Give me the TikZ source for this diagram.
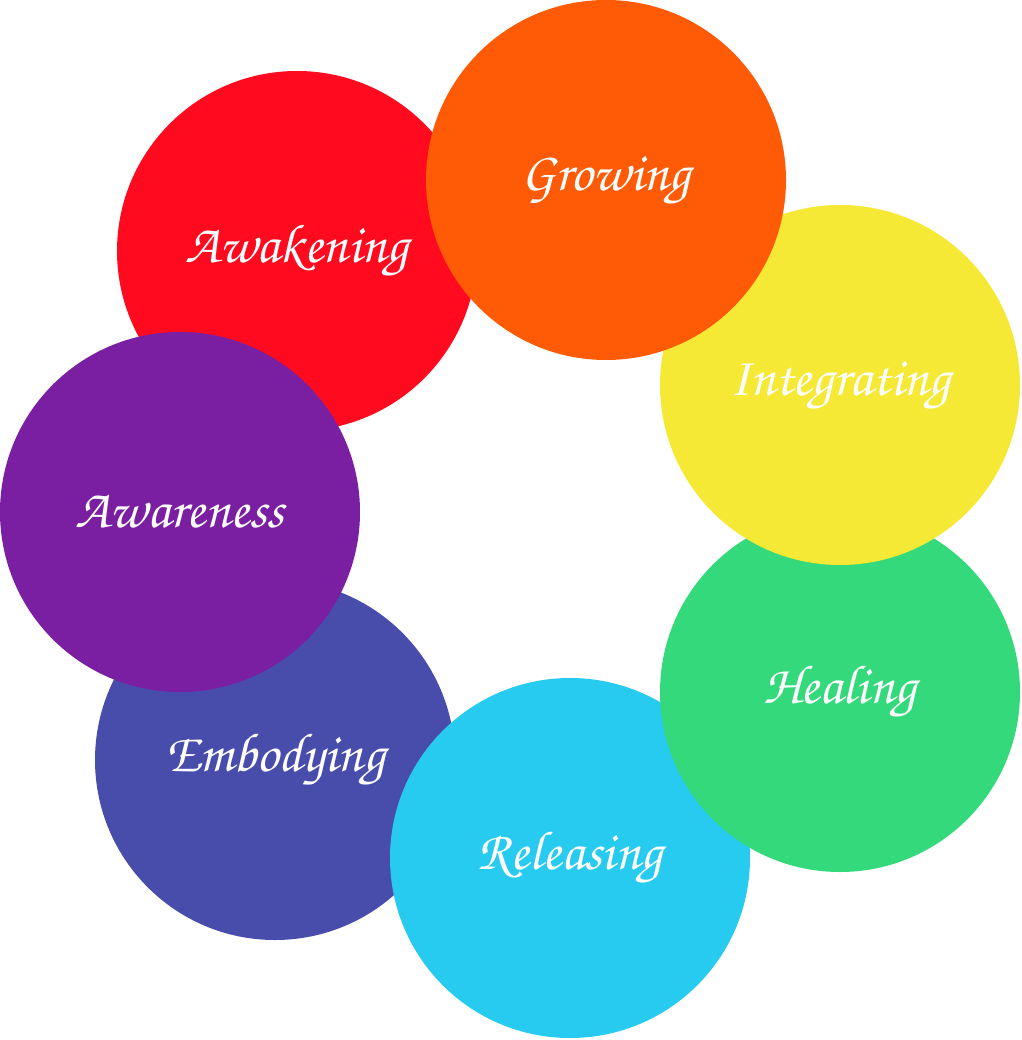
\documentclass[tikz,border=0pt]{standalone}
\usepackage{fontspec}
\setmainfont{TeX Gyre Chorus}
\definecolor{cRed}{HTML}{FF0A1F}
\definecolor{cOrange}{HTML}{FF5A05}
\definecolor{cYellow}{HTML}{F5E936}
\definecolor{cGreen}{HTML}{33D97A}
\definecolor{cCyan}{HTML}{26CBEF}
\definecolor{cIndigo}{HTML}{484CAB}
\definecolor{cPurple}{HTML}{7A1FA2}
\tikzset{
  stage/.style={circle, minimum size=360pt, inner sep=0pt, fill=#1,
    text=white, font=\fontsize{55}{55}\selectfont}
}
\begin{document}
\begin{tikzpicture}[x=1pt,y=-1pt]
  \useasboundingbox (0,0) rectangle (1021,1040);
  % back to front
  \node[stage=cIndigo] (embody) at (275,760) {Embodying};
  \node[stage=cCyan] (release) at (570,858) {Releasing};
  \node[stage=cGreen] (heal) at (840,692) {Healing};
  \node[stage=cYellow] (integr) at (840,385) {Integrating};
  \node[stage=cRed] (awaken) at (297,251) {Awakening};
  \node[stage=cOrange] (grow) at (606,180) {Growing};
  \node[stage=cPurple] (aware) at (180,512) {Awareness};
\end{tikzpicture}
\end{document}
